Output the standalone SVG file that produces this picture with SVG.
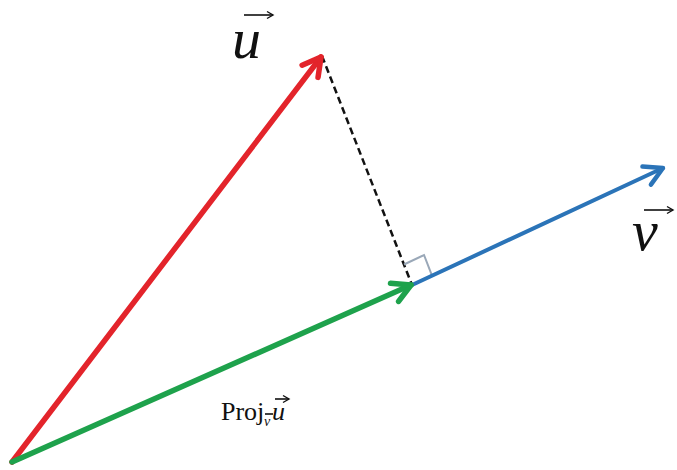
<svg xmlns="http://www.w3.org/2000/svg" width="677" height="470" viewBox="0 0 677 470">
<style>
.vec{fill:none;stroke-linecap:round;stroke-linejoin:round}
.lbl{font-family:"Liberation Serif","Times New Roman",serif;fill:#111}
.it{font-style:italic}
.ov{stroke:#111;stroke-width:1.6;fill:none}
</style>
<defs>
<marker id="mr" markerUnits="userSpaceOnUse" viewBox="-24 -14 28 28" markerWidth="28" markerHeight="28" refX="0" refY="0" orient="auto">
<path d="M-18,-10 L0,0 L-18,10" fill="none" stroke="#e3242b" stroke-width="5.5" stroke-linecap="round" stroke-linejoin="round"/>
</marker>
<marker id="mg" markerUnits="userSpaceOnUse" viewBox="-24 -14 28 28" markerWidth="28" markerHeight="28" refX="0" refY="0" orient="auto">
<path d="M-18,-10 L0,0 L-18,10" fill="none" stroke="#1ea24c" stroke-width="5.5" stroke-linecap="round" stroke-linejoin="round"/>
</marker>
<marker id="mb" markerUnits="userSpaceOnUse" viewBox="-24 -14 28 28" markerWidth="28" markerHeight="28" refX="0" refY="0" orient="auto">
<path d="M-18,-10 L0,0 L-18,10" fill="none" stroke="#2b74b8" stroke-width="4.5" stroke-linecap="round" stroke-linejoin="round"/>
</marker>
<marker id="ma" markerUnits="userSpaceOnUse" viewBox="-8 -5 10 10" markerWidth="10" markerHeight="10" refX="0" refY="0" orient="auto">
<path d="M-6,-3.5 L0,0 L-6,3.5" fill="none" stroke="#111" stroke-width="1.4"/>
</marker>
</defs>
<g id="connectors">
<line id="dashed" x1="322" y1="56" x2="412" y2="285" stroke="#111" stroke-width="2.5" stroke-dasharray="7,4"/>
<path id="right-angle" d="M404,264.5 L424,255 L432,275.7" fill="none" stroke="#9aa8b8" stroke-width="2"/>
<line id="vec-v" class="vec" x1="412" y1="285" x2="663" y2="168" stroke="#2b74b8" stroke-width="4" marker-end="url(#mb)"/>
<line id="vec-u" class="vec" x1="12" y1="462" x2="321" y2="57" stroke="#e3242b" stroke-width="5.5" marker-end="url(#mr)"/>
<line id="vec-proj" class="vec" x1="12" y1="462" x2="411" y2="285" stroke="#1ea24c" stroke-width="5.5" marker-end="url(#mg)"/>
</g>
<g id="label-u">
<text class="lbl it" x="232" y="58" font-size="58">u</text>
<line class="ov" x1="244" y1="15" x2="273" y2="15" marker-end="url(#ma)"/>
</g>
<g id="label-v">
<text class="lbl it" x="632" y="250" font-size="58">v</text>
<line class="ov" x1="644" y1="210" x2="673" y2="210" marker-end="url(#ma)"/>
</g>
<g id="label-proj">
<text class="lbl" x="221" y="420" font-size="26">Proj</text>
<text class="lbl it" x="264" y="426" font-size="14">v</text>
<line class="ov" x1="265" y1="414" x2="273" y2="414" stroke-width="0.9"/>
<text class="lbl it" x="272" y="420" font-size="26">u</text>
<line class="ov" x1="275" y1="399" x2="289" y2="399" stroke-width="1.2" marker-end="url(#ma)"/>
</g>
</svg>
